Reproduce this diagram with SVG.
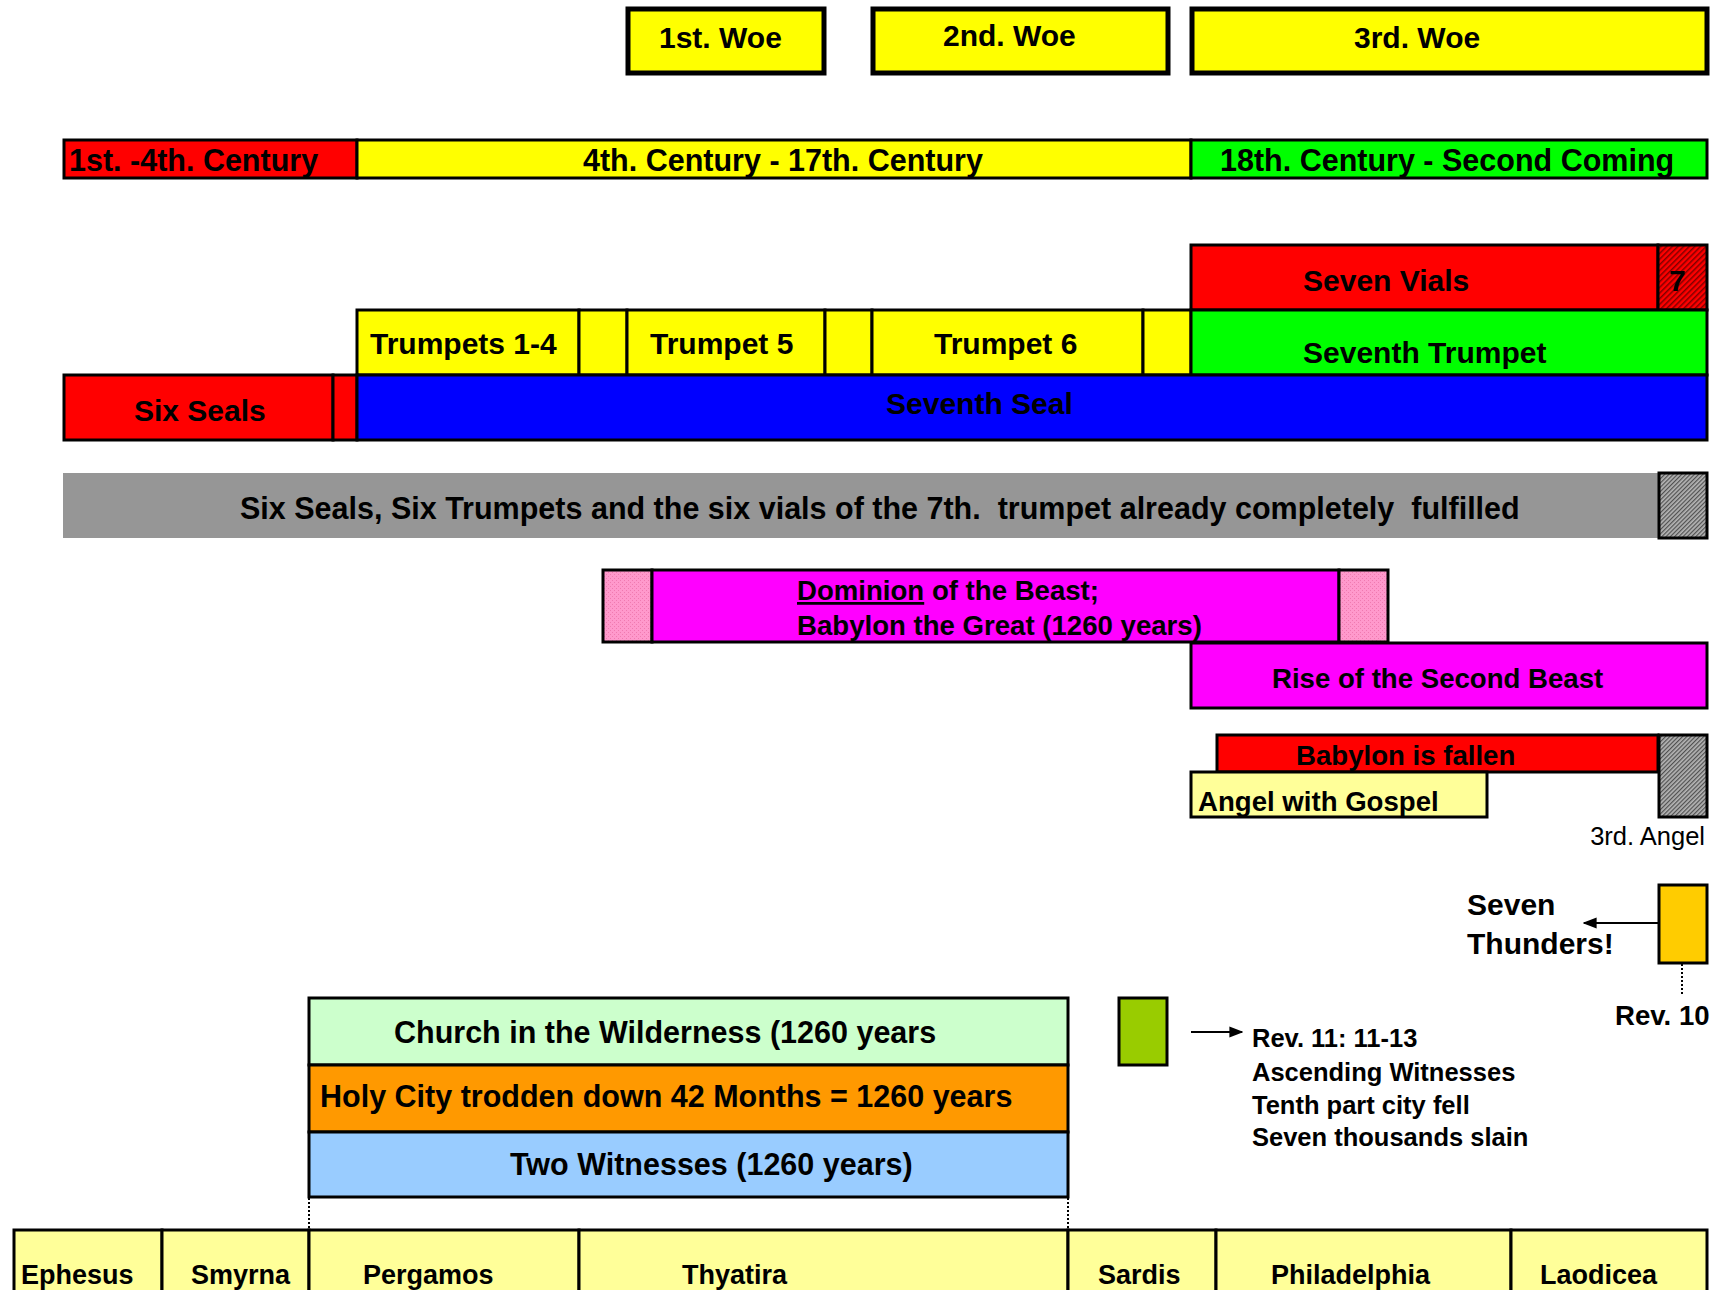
<svg xmlns="http://www.w3.org/2000/svg" width="1713" height="1290" viewBox="0 0 1713 1290">
<style>
text{font-family:"Liberation Sans",Arial,sans-serif;font-weight:bold;font-size:30px;fill:#000;white-space:pre}
.b{stroke:#000;stroke-width:3}
.w{stroke:#000;stroke-width:5}
.l{font-size:30.5px}
.c{font-size:27.6px}
.s{font-size:27px}
.m{font-size:25.5px}
.n{font-weight:normal;font-size:25.5px}
.con{stroke:#000;stroke-width:2;fill:none}
.dot{stroke:#000;stroke-width:2;stroke-dasharray:2 2;fill:none}
</style>
<defs>
<pattern id="hr" width="4" height="4" patternUnits="userSpaceOnUse" patternTransform="rotate(45)">
<rect width="4" height="4" fill="#FF0000"/><rect width="1.5" height="4" fill="#800000"/>
</pattern>
<pattern id="hg" width="3" height="3" patternUnits="userSpaceOnUse" patternTransform="rotate(45)">
<rect width="3" height="3" fill="#B4B4B4"/><rect width="1.2" height="3" fill="#505050"/>
</pattern>
<pattern id="hp" width="4" height="4" patternUnits="userSpaceOnUse">
<rect width="4" height="4" fill="#FF99CC"/><rect width="1" height="1" fill="#F07AB0"/><rect x="2" y="2" width="1" height="1" fill="#F07AB0"/>
</pattern>
<marker id="ah2" viewBox="0 0 10 10" refX="9" refY="5" markerWidth="14" markerHeight="14" orient="auto" markerUnits="userSpaceOnUse">
<path d="M0,1 L10,5 L0,9 z" fill="#000"/>
</marker>
</defs>
<rect width="1713" height="1290" fill="#fff"/>

<g id="woe1"><rect x="628" y="9" width="196" height="64" fill="#FFFF00" class="w"/><text x="659" y="48">1st. Woe</text></g>
<g id="woe2"><rect x="873" y="9" width="295" height="64" fill="#FFFF00" class="w"/><text x="943" y="46">2nd. Woe</text></g>
<g id="woe3"><rect x="1192" y="9" width="515" height="64" fill="#FFFF00" class="w"/><text x="1354" y="48">3rd. Woe</text></g>

<g id="century1"><rect x="64" y="140" width="293" height="38" fill="#FF0000" class="b"/><text x="69" y="171" class="l">1st. -4th. Century</text></g>
<g id="century2"><rect x="357" y="140" width="834" height="38" fill="#FFFF00" class="b"/><text x="583" y="171" class="l">4th. Century - 17th. Century</text></g>
<g id="century3"><rect x="1191" y="140" width="516" height="38" fill="#00FF00" class="b"/><text x="1220" y="171" class="l">18th. Century - Second Coming</text></g>

<g id="vials"><rect x="1191" y="245" width="467" height="65" fill="#FF0000" class="b"/><text x="1303" y="291">Seven Vials</text></g>
<g id="vial7"><rect x="1658" y="245" width="49" height="65" fill="url(#hr)" class="b"/><text x="1669" y="291">7</text></g>

<g id="trumpets14"><rect x="357" y="310" width="222" height="65" fill="#FFFF00" class="b"/><text x="370" y="354">Trumpets 1-4</text></g>
<g id="trumpetgap1"><rect x="579" y="310" width="48" height="65" fill="#FFFF00" class="b"/></g>
<g id="trumpet5"><rect x="627" y="310" width="198" height="65" fill="#FFFF00" class="b"/><text x="650" y="354">Trumpet 5</text></g>
<g id="trumpetgap2"><rect x="825" y="310" width="47" height="65" fill="#FFFF00" class="b"/></g>
<g id="trumpet6"><rect x="872" y="310" width="271" height="65" fill="#FFFF00" class="b"/><text x="934" y="354">Trumpet 6</text></g>
<g id="trumpetgap3"><rect x="1143" y="310" width="48" height="65" fill="#FFFF00" class="b"/></g>
<g id="trumpet7"><rect x="1191" y="310" width="516" height="65" fill="#00FF00" class="b"/><text x="1303" y="363">Seventh Trumpet</text></g>

<g id="sixseals"><rect x="64" y="375" width="269" height="65" fill="#FF0000" class="b"/><text x="134" y="421">Six Seals</text></g>
<g id="sealgap"><rect x="333" y="375" width="24" height="65" fill="#FF0000" class="b"/></g>
<g id="seal7"><rect x="357" y="375" width="1350" height="65" fill="#0000FF" class="b"/><text x="886" y="414">Seventh Seal</text></g>

<g id="fulfilled"><rect x="63" y="473" width="1595" height="65" fill="#969696"/><text x="240" y="519" class="l" xml:space="preserve">Six Seals, Six Trumpets and the six vials of the 7th.  trumpet already completely  fulfilled</text></g>
<g id="fulfilled-end"><rect x="1659" y="473" width="48" height="65" fill="url(#hg)" class="b"/></g>

<g id="dominion">
<rect x="603" y="570" width="49" height="72" fill="url(#hp)" class="b"/>
<rect x="652" y="570" width="687" height="72" fill="#FF00FF" class="b"/>
<rect x="1339" y="570" width="49" height="72" fill="url(#hp)" class="b"/>
<text x="797" y="600" class="c"><tspan text-decoration="underline">Dominion</tspan> of the Beast;</text>
<text x="797" y="635" class="c">Babylon the Great (1260 years)</text>
</g>

<g id="secondbeast"><rect x="1191" y="643" width="516" height="65" fill="#FF00FF" class="b"/><text x="1272" y="688" class="c">Rise of the Second Beast</text></g>

<g id="babylonfallen"><rect x="1217" y="735" width="441" height="37" fill="#FF0000" class="b"/><text x="1296" y="765" class="c">Babylon is fallen</text></g>
<g id="angelgospel"><rect x="1191" y="772" width="296" height="45" fill="#FFFF99" class="b"/><text x="1198" y="811" class="c">Angel with Gospel</text></g>
<g id="thirdangel"><rect x="1659" y="735" width="48" height="82" fill="url(#hg)" class="b"/><text x="1705" y="845" text-anchor="end" class="n">3rd. Angel</text></g>

<g id="thunders"><rect x="1659" y="885" width="48" height="78" fill="#FFCC00" class="b"/></g>
<g id="thunders-label"><text x="1467" y="915">Seven</text><text x="1467" y="954">Thunders!</text></g>
<g id="rev10"><text x="1615" y="1025" class="c">Rev. 10</text></g>

<g id="rev11box"><rect x="1119" y="998" width="48" height="67" fill="#99CC00" class="b"/></g>
<g id="rev11text">
<text x="1252" y="1047" class="m">Rev. 11: 11-13</text>
<text x="1252" y="1081" class="m">Ascending Witnesses</text>
<text x="1252" y="1114" class="m">Tenth part city fell</text>
<text x="1252" y="1146" class="m">Seven thousands slain</text>
</g>

<g id="wilderness"><rect x="309" y="998" width="759" height="67" fill="#CCFFCC" class="b"/><text x="394" y="1043" class="l">Church in the Wilderness (1260 years</text></g>
<g id="holycity"><rect x="309" y="1065" width="759" height="67" fill="#FF9900" class="b"/><text x="320" y="1107" class="l">Holy City trodden down 42 Months = 1260 years</text></g>
<g id="witnesses"><rect x="309" y="1132" width="759" height="65" fill="#99CCFF" class="b"/><text x="510" y="1175" class="l">Two Witnesses (1260 years)</text></g>

<g id="ephesus"><rect x="14" y="1230" width="148" height="70" fill="#FFFF99" class="b"/><text x="21" y="1284" class="s">Ephesus</text></g>
<g id="smyrna"><rect x="162" y="1230" width="147" height="70" fill="#FFFF99" class="b"/><text x="191" y="1284" class="s">Smyrna</text></g>
<g id="pergamos"><rect x="309" y="1230" width="270" height="70" fill="#FFFF99" class="b"/><text x="363" y="1284" class="s">Pergamos</text></g>
<g id="thyatira"><rect x="579" y="1230" width="489" height="70" fill="#FFFF99" class="b"/><text x="682" y="1284" class="s">Thyatira</text></g>
<g id="sardis"><rect x="1068" y="1230" width="148" height="70" fill="#FFFF99" class="b"/><text x="1098" y="1284" class="s">Sardis</text></g>
<g id="philadelphia"><rect x="1216" y="1230" width="295" height="70" fill="#FFFF99" class="b"/><text x="1271" y="1284" class="s">Philadelphia</text></g>
<g id="laodicea"><rect x="1511" y="1230" width="196" height="70" fill="#FFFF99" class="b"/><text x="1540" y="1284" class="s">Laodicea</text></g>

<g id="connectors">
<line x1="1658" y1="923" x2="1584" y2="923" class="con" marker-end="url(#ah2)"/>
<line x1="1191" y1="1032" x2="1242" y2="1032" class="con" marker-end="url(#ah2)"/>
<line x1="1682" y1="964" x2="1682" y2="996" class="dot"/>
<line x1="309" y1="1198" x2="309" y2="1229" class="dot" stroke-dasharray="5 3"/>
<line x1="1068" y1="1198" x2="1068" y2="1229" class="dot"/>
</g>
</svg>
